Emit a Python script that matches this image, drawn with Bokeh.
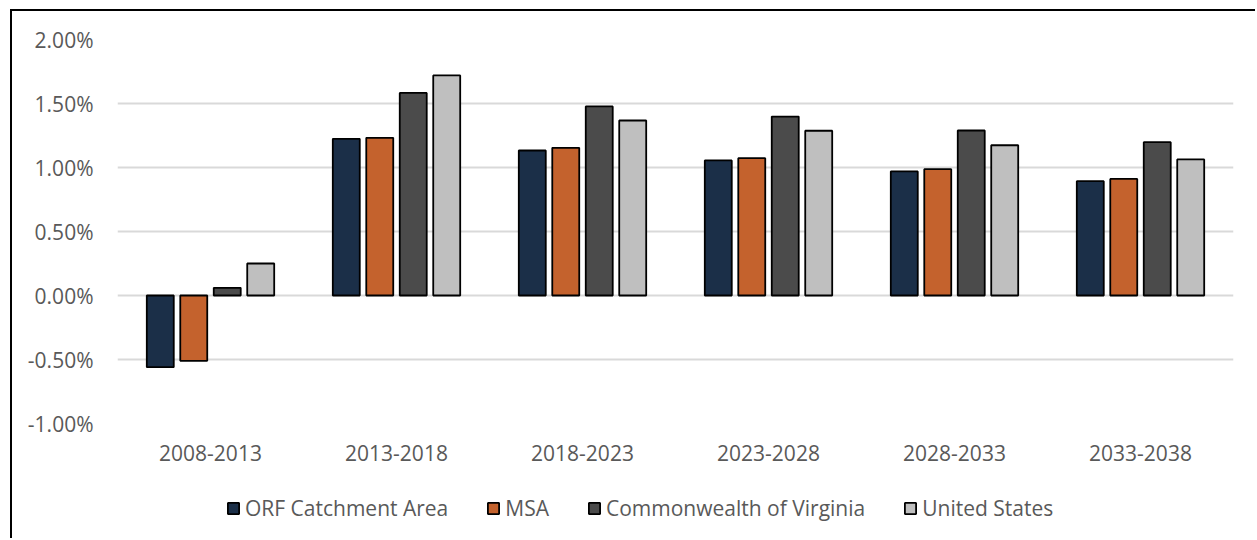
import numpy as np
from bokeh.plotting import figure
from bokeh.layouts import column
from bokeh.models import (ColumnDataSource, FactorRange, Range1d, NumeralTickFormatter,
                          FixedTicker, Legend, LegendItem)
from bokeh.transform import dodge
from bokeh.embed import file_html
from bokeh.resources import INLINE

periods = ["2008-2013", "2013-2018", "2018-2023", "2023-2028", "2028-2033", "2033-2038"]
series_names = ["ORF Catchment Area", "MSA", "Commonwealth of Virginia", "United States"]
orf = [-0.0056, 0.01224, 0.01133, 0.01055, 0.00969, 0.00893]
msa = [-0.0051, 0.01232, 0.01154, 0.01073, 0.00987, 0.00911]
virginia = [0.0006, 0.01583, 0.01477, 0.01398, 0.01289, 0.01198]
usa = [0.0025, 0.01719, 0.01367, 0.01287, 0.01174, 0.01063]
y_ticks = [-0.01, -0.005, 0.0, 0.005, 0.01, 0.015, 0.02]

colors = ["#1b2f48", "#c4622d", "#4b4b4b", "#bfbfbf"]
offsets = [-0.27, -0.09, 0.09, 0.27]

source = ColumnDataSource(dict(period=periods, orf=orf, msa=msa, va=virginia, us=usa))
cols = ["orf", "msa", "va", "us"]

FONT = "Open Sans"
TEXT_COLOR = "#595959"
BAR_STYLE = dict(width=0.145, line_color="black", line_width=1.8)

# main chart
p = figure(x_range=FactorRange(*periods), y_range=Range1d(-0.01, 0.02),
           width=1243, height=468, output_backend="svg", toolbar_location=None,
           min_border_left=105, min_border_top=28, min_border_right=22, min_border_bottom=56)

for col, c, off in zip(cols, colors, offsets):
    p.vbar(x=dodge("period", off, range=p.x_range), top=col, bottom=0,
           source=source, fill_color=c, **BAR_STYLE)

p.outline_line_color = None
p.xgrid.grid_line_color = None
p.ygrid.grid_line_color = "#d9d9d9"
p.ygrid.grid_line_width = 2

p.yaxis.ticker = FixedTicker(ticks=y_ticks)
p.yaxis.formatter = NumeralTickFormatter(format="0.00%")
for ax in (p.xaxis[0], p.yaxis[0]):
    ax.axis_line_color = None
    ax.major_tick_line_color = None
    ax.minor_tick_line_color = None
    ax.major_tick_out = 0
    ax.major_tick_in = 0
    ax.major_label_text_font = FONT
    ax.major_label_text_font_size = "21px"
    ax.major_label_text_color = TEXT_COLOR
p.yaxis.major_label_standoff = 24
p.xaxis.major_label_standoff = 21

# legend strip below the chart: swatch-only renderers (no drawable bars), only the legend shows
lg = figure(width=1243, height=59, x_range=p.x_range, y_range=Range1d(1, 2),
            output_backend="svg", toolbar_location=None,
            x_axis_location=None, y_axis_location=None, min_border=0)
lg.outline_line_color = None
lg.grid.grid_line_color = None
swatch_source = ColumnDataSource(dict(period=periods, top=np.full(len(periods), np.nan)))
legend_renderers = [lg.vbar(x=dodge("period", off, range=lg.x_range), top="top", bottom=0,
                            source=swatch_source, fill_color=c, **BAR_STYLE)
                    for c, off in zip(colors, offsets)]
legend = Legend(items=[LegendItem(label=n, renderers=[r]) for n, r in zip(series_names, legend_renderers)],
                orientation="horizontal", location=(109, 16), margin=0,
                glyph_width=14, glyph_height=14, label_standoff=5, spacing=38,
                padding=0, border_line_color=None, background_fill_alpha=0,
                label_text_font=FONT, label_text_font_size="21px", label_text_color=TEXT_COLOR)
lg.add_layout(legend, "center")

layout = column(p, lg, spacing=0)
layout.styles = {"border-top": "2px solid black", "border-left": "2px solid black",
                 "margin-top": "9px", "margin-left": "10px"}

open("out.html", "w").write(file_html(layout, INLINE))
